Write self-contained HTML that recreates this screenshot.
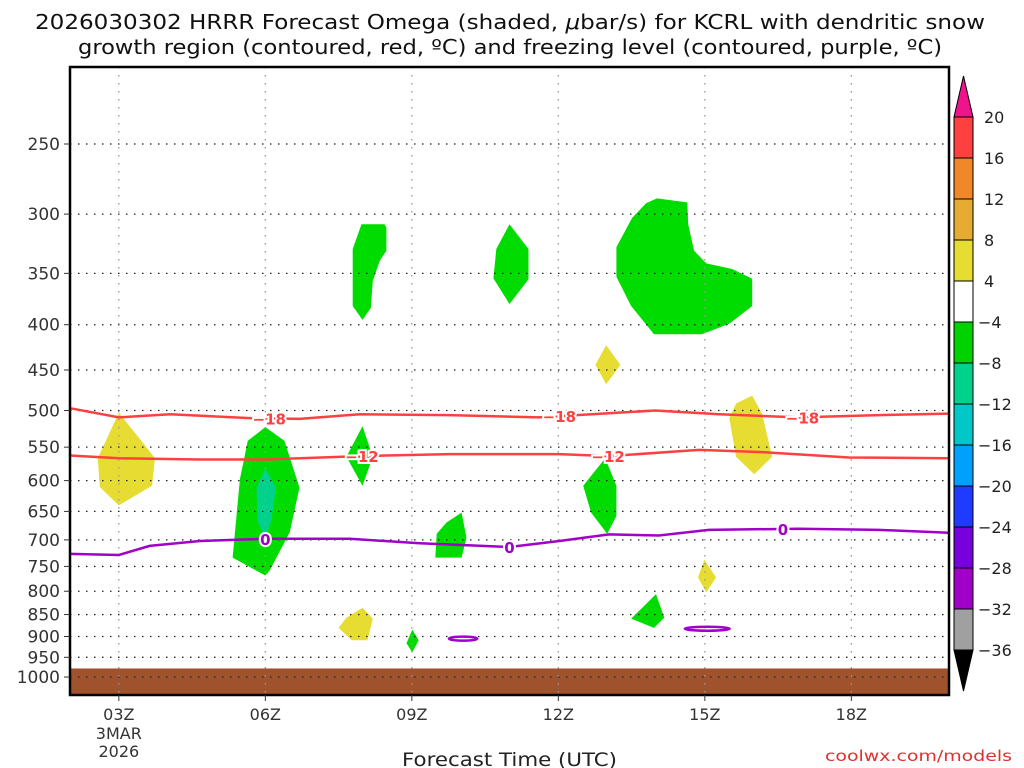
<!DOCTYPE html>
<html><head><meta charset="utf-8"><style>
html,body{margin:0;padding:0;background:#fff;}
svg{display:block;font-family:"DejaVu Sans","Liberation Sans",sans-serif;}
</style></head><body>
<svg id="chart" width="1024" height="768" viewBox="0 0 1024 768" xmlns="http://www.w3.org/2000/svg">
<text x="35" y="29" textLength="950" lengthAdjust="spacingAndGlyphs" font-size="20" fill="#111">2026030302 HRRR Forecast Omega (shaded, <tspan font-style="italic">μ</tspan>bar/s) for KCRL with dendritic snow</text>
<text x="78" y="54" textLength="864" lengthAdjust="spacingAndGlyphs" font-size="20" fill="#111">growth region (contoured, red, ºC) and freezing level (contoured, purple, ºC)</text>
<g id="plot"></g>
<text x="402" y="766" textLength="215" lengthAdjust="spacingAndGlyphs" font-size="19" fill="#222">Forecast Time (UTC)</text>
<text x="825" y="761" textLength="187" lengthAdjust="spacingAndGlyphs" font-size="15" fill="#e03030">coolwx.com/models</text>
</svg>
<script>
const pressureTicks=[250,300,350,400,450,500,550,600,650,700,750,800,850,900,950,1000];
const hourTicks=[3,6,9,12,15,18];
const hourTickLabels=["03Z","06Z","09Z","12Z","15Z","18Z"];
const colorbarLevels=[20,16,12,8,4,-4,-8,-12,-16,-20,-24,-28,-32,-36];
const colorbarColors=["#ff4040","#f0882a","#e6ac32","#e6dc32","#ffffff","#00d200","#00d28c","#00c8c8","#00a0ff","#1e3cff","#7800dc","#a000c8","#a0a0a0"];
const groundPressure=978;
const line18Hours=[2,3,4.05,5.68,6.7,7.93,9.77,11.6,13.98,15.3,16.93,18.56,20];
const line18Press=[497,509,505,510,511,505,506,509,500,505,509,506,504];
const line12Hours=[2,3,4.66,6,7.93,9.77,12.02,13.04,14.88,16.11,17.95,20];
const line12Press=[562,566,568,568,563,560,560,563,554,557,565,566];
const line0Hours=[2,3,3.63,4.66,6,7.73,9.16,11,12.02,13.04,14.06,15.08,16.93,18.56,20];
const line0Press=[726,728,711,702,698,698,706,713,702,690,692,682,680,682,687];
const label18Hours=[6.08,12.02,17.0];
const label12Hours=[7.98,13.02];
const label0Hours=[6.0,11.0,16.6];
const yellowAreas=[
 [[3.00,503],[3.45,540],[3.74,566],[3.68,608],[3.00,640],[2.61,610],[2.57,566]],
 [[12.98,422],[13.27,444],[12.98,467],[12.76,444]],
 [[15.97,481],[16.17,504],[16.38,564],[16.01,590],[15.64,564],[15.50,510],[15.64,491]],
 [[14.99,737],[15.23,772],[15.03,802],[14.86,772]],
 [[7.99,835],[8.20,859],[8.09,909],[7.77,909],[7.50,880],[7.66,857]]
];
const greenAreas=[
 [[7.97,308],[8.44,308],[8.48,311],[8.48,330],[8.34,339],[8.20,357],[8.16,383],[7.99,395],[7.79,381],[7.79,328.5]],
 [[11.00,308],[11.39,328.5],[11.39,355.5],[11.00,379],[10.67,354.6],[10.73,328.5]],
 [[14.02,288],[14.64,291],[14.66,308],[14.78,330],[15.03,341],[15.56,346],[15.97,355],[15.97,381],[15.50,399],[14.94,410],[13.96,410],[13.49,381],[13.19,353],[13.19,327],[13.51,303],[13.80,291.5]],
 [[6.00,522],[6.39,541],[6.70,611],[6.50,686],[6.09,758],[6.00,768],[5.33,733],[5.48,598],[5.64,541]],
 [[7.99,521],[8.20,564],[7.99,608],[7.66,564]],
 [[12.96,566],[13.19,608],[13.19,658],[13.00,689],[12.67,652],[12.51,608]],
 [[10.02,652],[10.12,696],[10.02,733],[9.48,733],[9.51,689],[9.71,669]],
 [[14.00,806],[14.17,857],[13.96,880],[13.49,859],[13.72,835]],
 [[9.01,884],[9.14,909],[9.01,938],[8.89,916]]
];
const tealAreas=[
 [[6.00,581],[6.22,611],[6.12,666],[6.00,698],[5.84,666],[5.82,611]]
];
const purpleLoopHours=[10.05,15.05];
const purpleLoopPress=[905,882];
const purpleLoopHalfWidthHours=[0.29,0.46];

const NS="http://www.w3.org/2000/svg";
const X0=70,X1=949,Y0=67,Y1=695,H0=2,H1=20;
function xs(h){return X0+(h-H0)*(X1-X0)/(H1-H0);}
function ys(p){return 144+384.5*Math.log(p/250);}
const plot=document.getElementById('plot');
function mk(tag,attrs,parent){const e=document.createElementNS(NS,tag);for(const k in attrs)e.setAttribute(k,attrs[k]);(parent||plot).appendChild(e);return e;}
function interp(hs,ps,h){for(let i=0;i<hs.length-1;i++){if(h>=hs[i]&&h<=hs[i+1]){const t=(h-hs[i])/(hs[i+1]-hs[i]);return ps[i]+t*(ps[i+1]-ps[i]);}}return ps[ps.length-1];}

let g=mk('rect',{x:X0,y:ys(groundPressure),width:X1-X0,height:Y1-ys(groundPressure),fill:'#a0522d'});



function poly(pts,fill,name){const d=pts.map(q=>xs(q[0]).toFixed(1)+','+ys(q[1]).toFixed(1)).join(' ');const e=mk('polygon',{points:d,fill:fill});

}
yellowAreas.forEach(a=>poly(a,'#e6dc32','omega-positive-area'));
greenAreas.forEach(a=>poly(a,'#00dc00','omega-negative-area'));
tealAreas.forEach(a=>poly(a,'#00d28c','omega-strong-negative-area'));

pressureTicks.forEach(p=>{const l=mk('line',{x1:X0,x2:X1,y1:ys(p),y2:ys(p),stroke:'#222','stroke-width':1.3,'stroke-dasharray':'1.5,6.5'});

});
hourTicks.forEach(h=>{const l=mk('line',{x1:xs(h),x2:xs(h),y1:Y0,y2:Y1,stroke:'#999','stroke-width':1.3,'stroke-dasharray':'1.5,6.5'});

});

function cline(hs,ps,col,name){const d=hs.map((h,i)=>(i?'L':'M')+xs(h).toFixed(1)+','+ys(ps[i]).toFixed(1)).join('');const e=mk('path',{d:d,fill:'none',stroke:col,'stroke-width':2.5});

}
cline(line18Hours,line18Press,'#ff4040','contour-minus18');
cline(line12Hours,line12Press,'#ff4040','contour-minus12');
cline(line0Hours,line0Press,'#a000c8','freezing-level-0');
purpleLoopHours.forEach((h,i)=>{const e=mk('ellipse',{cx:xs(h),cy:ys(purpleLoopPress[i]),rx:purpleLoopHalfWidthHours[i]*48.9,ry:2,fill:'none',stroke:'#a000c8','stroke-width':2.5});

});
function clabel(hs,ps,list,txt,col,name){list.forEach(h=>{const x=xs(h),y=ys(interp(hs,ps,h));
const t=mk('text',{x:x,y:y+6,'text-anchor':'middle','font-size':15,'font-weight':'bold',fill:col,stroke:'#fff','stroke-width':4,'paint-order':'stroke'});t.textContent=txt;

});}
clabel(line18Hours,line18Press,label18Hours,'−18','#ff4040','contour-label-minus18');
clabel(line12Hours,line12Press,label12Hours,'−12','#ff4040','contour-label-minus12');
clabel(line0Hours,line0Press,label0Hours,'0','#a000c8','contour-label-0');

let fr=mk('rect',{x:X0,y:Y0,width:X1-X0,height:Y1-Y0,fill:'none',stroke:'#000','stroke-width':2.5});



pressureTicks.forEach(p=>{mk('line',{x1:X0-6,x2:X0,y1:ys(p),y2:ys(p),stroke:'#333','stroke-width':1});
const t=mk('text',{x:X0-10,y:ys(p)+6,'text-anchor':'end','font-size':17,fill:'#333'});t.textContent=p;

});
hourTicks.forEach((h,i)=>{mk('line',{x1:xs(h),x2:xs(h),y1:Y1,y2:Y1+6,stroke:'#333','stroke-width':1});
const t=mk('text',{x:xs(h),y:Y1+25,'text-anchor':'middle','font-size':16,fill:'#333'});t.textContent=hourTickLabels[i];

});
['3MAR','2026'].forEach((s,i)=>{const t=mk('text',{x:xs(3),y:Y1+44+i*18,'text-anchor':'middle','font-size':16,fill:'#333'});t.textContent=s;

});

const CX=954,CW=19,CT=117,CB=650,step=(CB-CT)/(colorbarLevels.length-1);
let tri=mk('polygon',{points:`${CX},${CT} ${CX+CW},${CT} ${CX+CW/2},${CT-41}`,fill:'#f0148c',stroke:'#000','stroke-width':1});


tri=mk('polygon',{points:`${CX},${CB} ${CX+CW},${CB} ${CX+CW/2},${CB+41}`,fill:'#000',stroke:'#000','stroke-width':1});


colorbarColors.forEach((c,i)=>{const r=mk('rect',{x:CX,y:CT+i*step,width:CW,height:step,fill:c,stroke:'#000','stroke-width':1});

});
colorbarLevels.forEach((v,i)=>{const t=mk('text',{x:CX+CW+5+(v<0?0:6),y:CT+i*step+6,'font-size':16,fill:'#222'});t.textContent=(v<0?'−':'')+Math.abs(v);

});
</script>
</body></html>
